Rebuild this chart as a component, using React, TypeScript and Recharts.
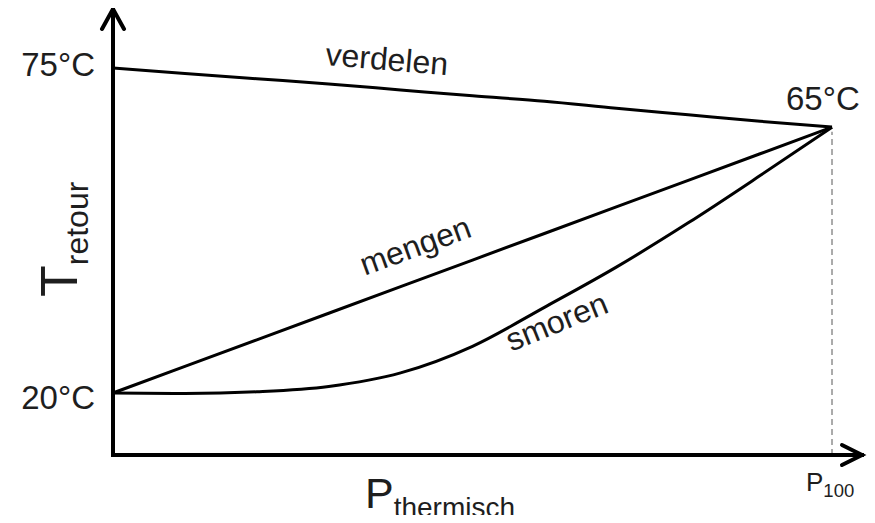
import { LineChart, Line, XAxis, YAxis, ReferenceLine, ReferenceDot } from 'recharts';

// vermogen in % van P100, temperaturen in °C
const powerPct = [0, 10, 20, 30, 40, 50, 60, 70, 80, 90, 100];
const verdelenT = [75, 74.1, 73.2, 72.3, 71.3, 70.3, 69.4, 68.2, 67.1, 66.0, 65];
const mengenT = [20, 24.5, 29, 33.5, 38, 42.5, 47, 51.5, 56, 60.5, 65];
const smorenT = [20, 19.9, 20.2, 21.1, 23.4, 27.9, 34.5, 41.3, 48.8, 56.8, 65];

const tempTicks = [20, 75];
const powerTicks = [100];
const endPoint = { p: 100, t: 65 };

const labelNames = ['verdelen', 'mengen', 'smoren'];
const labelP = [37.97, 42.56, 62.28];
const labelT = [74.66, 43.18, 30.37];

const X_MAX = 104.17;
const Y_MIN = 9.5;
const Y_MAX = 85;

const FONT = '"Liberation Sans", Arial, sans-serif';
const TEXT = '#1e1e1e';
const labelAngle: Record<string, number> = { verdelen: 4.8, mengen: -20, smoren: -22 };

const chartData = powerPct.map((p, i) => ({
  p,
  verdelen: verdelenT[i],
  mengen: mengenT[i],
  smoren: smorenT[i],
}));

const TempTick = ({ x, y, payload }: any) => (
  <text
    x={x}
    y={y + (payload.value === 20 ? 16 : 8)}
    textAnchor="end"
    fontSize={33}
    fontFamily={FONT}
    fill={TEXT}
  >
    {`${payload.value}°C`}
  </text>
);

const PowerTick = ({ x, y }: any) => (
  <text x={x - 26} y={y + 36} fontSize={26} fontFamily={FONT} fill={TEXT}>
    P<tspan fontSize={18.5} dy={6}>100</tspan>
  </text>
);

const XTitle = ({ viewBox }: any) => (
  <text x={viewBox.x + 252} y={viewBox.y + 53} fontSize={43} fontFamily={FONT} fill={TEXT}>
    P<tspan fontSize={28} dy={9}>thermisch</tspan>
  </text>
);

const YTitle = () => (
  <text transform="translate(77, 297) rotate(-90)" fontSize={52} fontFamily={FONT} fill={TEXT}>
    T<tspan fontSize={32} dy={11}>retour</tspan>
  </text>
);

const UpArrow = ({ cx, cy }: any) => (
  <path
    d={`M${cx - 11},${cy + 20} L${cx},${cy} L${cx + 11},${cy + 20}`}
    fill="none"
    stroke="#000"
    strokeWidth={4}
    strokeLinecap="round"
  />
);

const RightArrow = ({ cx, cy }: any) => (
  <path
    d={`M${cx - 20},${cy - 10} L${cx},${cy} L${cx - 20},${cy + 10}`}
    fill="none"
    stroke="#000"
    strokeWidth={4}
    strokeLinecap="round"
  />
);

export default function App() {
  return (
    <div style={{ margin: -8 }}>
      <LineChart
        width={875}
        height={523}
        data={chartData}
        margin={{ top: 9, right: 13, left: 0, bottom: 0 }}
      >
        <XAxis
          type="number"
          dataKey="p"
          domain={[0, X_MAX]}
          allowDataOverflow
          ticks={powerTicks}
          tick={<PowerTick />}
          tickLine={false}
          tickSize={0}
          tickMargin={0}
          height={68}
          axisLine={{ stroke: '#000', strokeWidth: 4, strokeLinecap: 'square' }}
          label={<XTitle />}
        />
        <YAxis
          type="number"
          domain={[Y_MIN, Y_MAX]}
          allowDataOverflow
          ticks={tempTicks}
          tick={<TempTick />}
          tickLine={false}
          tickSize={6}
          tickMargin={12}
          width={113}
          axisLine={{ stroke: '#000', strokeWidth: 4, strokeLinecap: 'square' }}
          label={<YTitle />}
        />

        {/* stippellijn bij P100 */}
        <ReferenceLine
          segment={[
            { x: endPoint.p, y: Y_MIN },
            { x: endPoint.p, y: endPoint.t - 0.8 },
          ]}
          stroke="#aaaaaa"
          strokeWidth={2}
          strokeDasharray="6 4"
        />

        <Line type="monotone" dataKey="verdelen" stroke="#000" strokeWidth={3} dot={false} activeDot={false} isAnimationActive={false} />
        <Line type="linear" dataKey="mengen" stroke="#000" strokeWidth={3} dot={false} activeDot={false} isAnimationActive={false} />
        <Line type="monotone" dataKey="smoren" stroke="#000" strokeWidth={3} dot={false} activeDot={false} isAnimationActive={false} />

        {/* pijlpunten van de assen */}
        <ReferenceDot x={0} y={Y_MAX} ifOverflow="visible" shape={<UpArrow />} />
        <ReferenceDot x={X_MAX} y={Y_MIN} ifOverflow="visible" shape={<RightArrow />} />

        <ReferenceDot
          x={endPoint.p}
          y={endPoint.t}
          ifOverflow="visible"
          shape={(props: any) => (
            <text x={props.cx - 46} y={props.cy - 17} fontSize={33} fontFamily={FONT} fill={TEXT}>
              {`${endPoint.t}°C`}
            </text>
          )}
        />

        {labelNames.map((name, i) => (
          <ReferenceDot
            key={name}
            x={labelP[i]}
            y={labelT[i]}
            ifOverflow="visible"
            shape={(props: any) => (
              <text
                x={props.cx}
                y={props.cy}
                textAnchor="middle"
                fontSize={32}
                fontFamily={FONT}
                fill={TEXT}
                transform={`rotate(${labelAngle[name]}, ${props.cx}, ${props.cy})`}
              >
                {name}
              </text>
            )}
          />
        ))}
      </LineChart>
    </div>
  );
}
